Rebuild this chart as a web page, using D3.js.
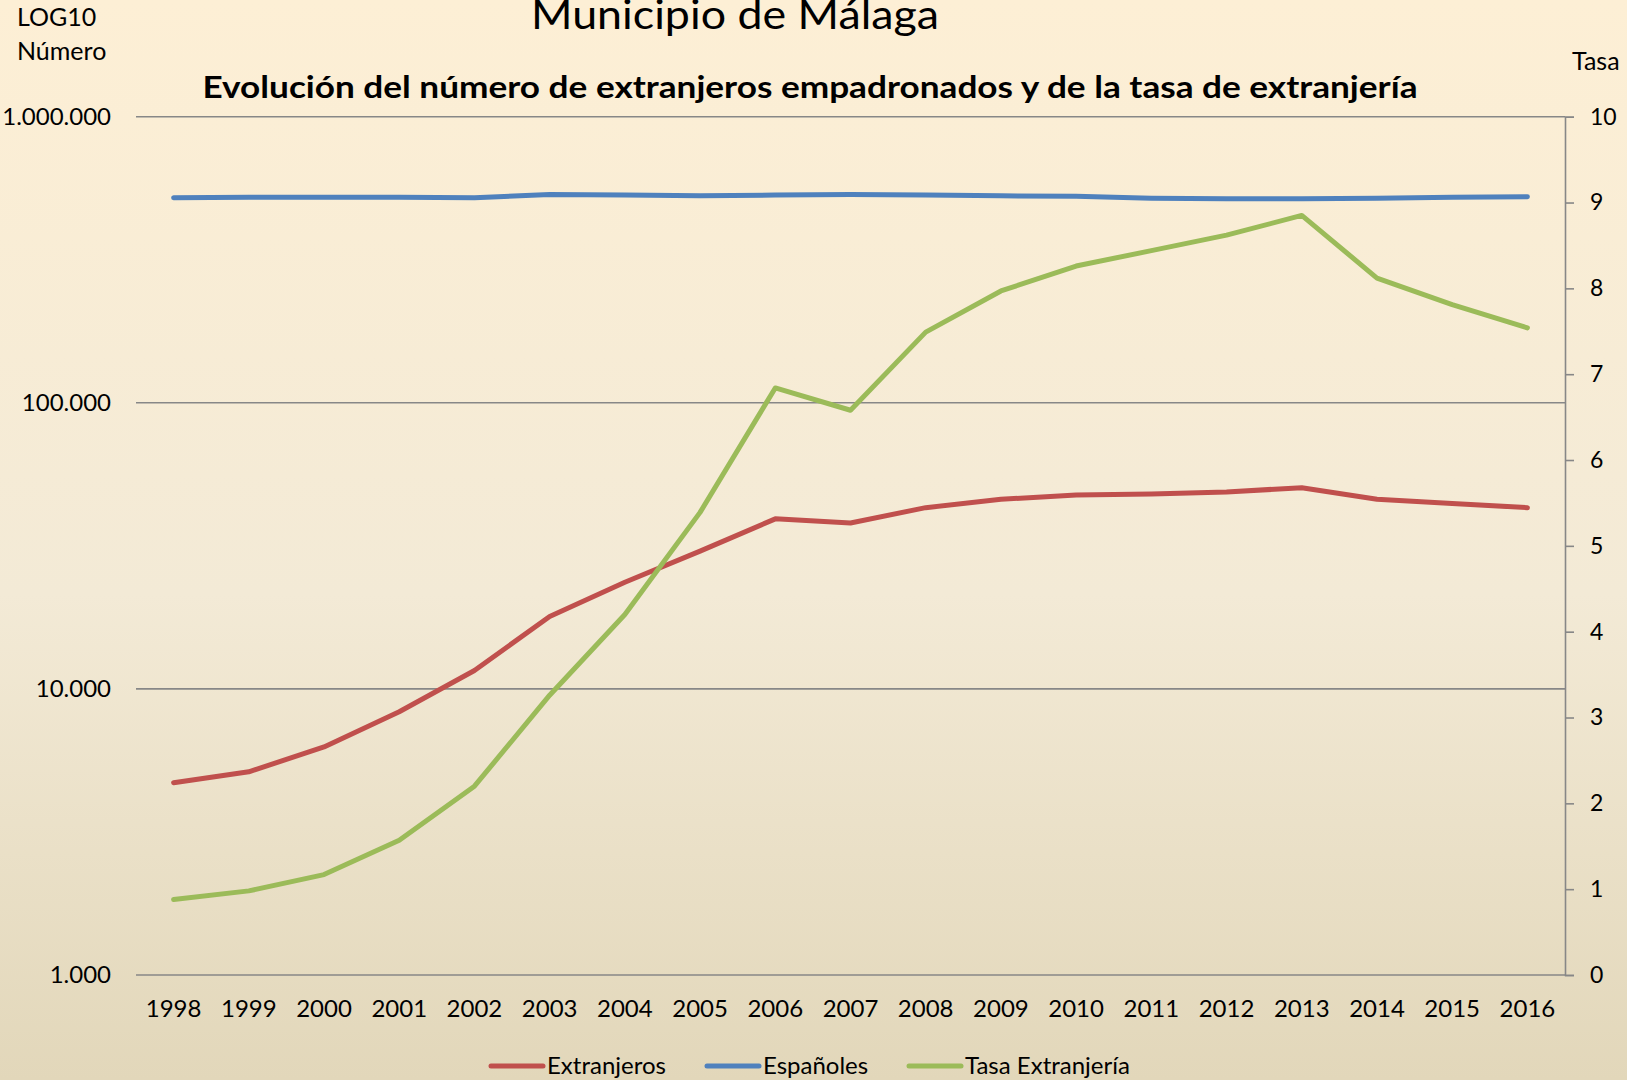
<!DOCTYPE html>
<html>
<head>
<meta charset="utf-8">
<title>Municipio de Málaga</title>
<script src="https://d3js.org/d3.v7.min.js"></script>
<style>
  html, body { margin: 0; padding: 0; overflow: hidden; }
  body { width: 1627px; height: 1080px; }
  text { font-family: Lato, "Open Sans", sans-serif; fill: #000; }
</style>
</head>
<body>
<div id="chart"></div>
<script>
// Data
var years = ["1998","1999","2000","2001","2002","2003","2004","2005","2006","2007",
             "2008","2009","2010","2011","2012","2013","2014","2015","2016"];
var extranjeros = [4700, 5130, 6270, 8320, 11600, 17900, 23600, 30300, 39300, 38000,
                   43000, 46000, 47600, 48000, 48800, 50500, 46000, 44500, 43000];
var espanoles = [521000, 523000, 523000, 523000, 521000, 535000, 532000, 529000, 532000, 535000,
                 532000, 529000, 527000, 519000, 517000, 517000, 519000, 523000, 525000];
var tasa = [0.88, 0.98, 1.17, 1.57, 2.20, 3.26, 4.20, 5.39, 6.84, 6.58,
            7.49, 7.97, 8.26, 8.44, 8.62, 8.85, 8.12, 7.81, 7.54];
var leftTicks = [1000, 10000, 100000, 1000000];
var leftTickLabels = ["1.000", "10.000", "100.000", "1.000.000"];
var rightTicks = [0, 1, 2, 3, 4, 5, 6, 7, 8, 9, 10];

var W = 1627, H = 1080;
var margin = {top: 116.7, right: 62, bottom: 105, left: 136};
var width = W - margin.left - margin.right,
    height = H - margin.top - margin.bottom;

var svg = d3.select("#chart").append("svg")
    .attr("width", W)
    .attr("height", H);

// background gradient
var defs = svg.append("defs");
var grad = defs.append("linearGradient")
    .attr("id", "bg").attr("x1", 0).attr("y1", 0).attr("x2", 0).attr("y2", 1);
grad.append("stop").attr("offset", "0%").attr("stop-color", "#fdefd5");
grad.append("stop").attr("offset", "55%").attr("stop-color", "#f3ead6");
grad.append("stop").attr("offset", "100%").attr("stop-color", "#e2d7ba");
svg.append("rect").attr("width", W).attr("height", H).attr("fill", "url(#bg)");

var g = svg.append("g")
    .attr("transform", "translate(" + margin.left + "," + margin.top + ")");

// Scales
var x = d3.scaleBand().domain(years).range([0, width]);
var xc = function(d) { return x(d) + x.bandwidth() / 2; };
var y = d3.scaleLog().domain([1000, 1000000]).range([height, 0]);
var y2 = d3.scaleLinear().domain([0, 10]).range([height, 0]);

// Gridlines (left axis)
g.selectAll(".grid").data(leftTicks).enter().append("line")
    .attr("x1", 0).attr("x2", width)
    .attr("y1", function(d) { return y(d); })
    .attr("y2", function(d) { return y(d); })
    .attr("stroke", "#878787").attr("stroke-width", 1.6);

// Left tick labels
g.selectAll(".ltick").data(leftTicks).enter().append("text")
    .attr("x", -25)
    .attr("y", function(d) { return y(d); })
    .attr("dy", "0.35em")
    .attr("text-anchor", "end")
    .style("font-size", "24px")
    .text(function(d, i) { return leftTickLabels[i]; });

// Right axis
var rightAxis = d3.axisRight(y2).tickValues(rightTicks).tickSize(9).tickPadding(16)
    .tickFormat(d3.format("d"));
var ra = g.append("g")
    .attr("transform", "translate(" + width + ",0)")
    .call(rightAxis);
ra.select(".domain").attr("stroke", "#878787").attr("stroke-width", 1.6);
ra.selectAll(".tick line").attr("stroke", "#878787").attr("stroke-width", 1.6);
ra.selectAll(".tick text")
    .style("font-family", "Lato, 'Open Sans', sans-serif")
    .style("font-size", "23px").attr("fill", "#000");

// Year labels
g.selectAll(".year").data(years).enter().append("text")
    .attr("x", function(d) { return xc(d); })
    .attr("y", height + 34)
    .attr("dy", "0.35em")
    .attr("text-anchor", "middle")
    .style("font-size", "24px")
    .text(function(d) { return d; });

// Lines
var lineL = d3.line()
    .x(function(d, i) { return xc(years[i]); })
    .y(function(d) { return y(d); });
var lineR = d3.line()
    .x(function(d, i) { return xc(years[i]); })
    .y(function(d) { return y2(d); });

var series = [
  {name: "Extranjeros", values: extranjeros, color: "#c0504d", line: lineL},
  {name: "Españoles", values: espanoles, color: "#4f81bd", line: lineL},
  {name: "Tasa Extranjería", values: tasa, color: "#9bbb59", line: lineR}
];

series.forEach(function(s) {
  g.append("path")
      .datum(s.values)
      .attr("fill", "none")
      .attr("stroke", s.color)
      .attr("stroke-width", 5)
      .attr("stroke-linejoin", "round")
      .attr("stroke-linecap", "round")
      .attr("d", s.line);
});

// Titles
svg.append("text")
    .attr("x", 735).attr("y", 29)
    .attr("text-anchor", "middle")
    .attr("textLength", 408).attr("lengthAdjust", "spacingAndGlyphs")
    .style("font-size", "40px")
    .text("Municipio de Málaga");

svg.append("text")
    .attr("x", 810).attr("y", 98)
    .attr("text-anchor", "middle")
    .attr("textLength", 1215).attr("lengthAdjust", "spacingAndGlyphs")
    .style("font-size", "31px").style("font-weight", "bold")
    .text("Evolución del número de extranjeros empadronados y de la tasa de extranjería");

svg.append("text").attr("x", 17).attr("y", 26)
    .style("font-size", "25px").text("LOG10");
svg.append("text").attr("x", 17).attr("y", 60)
    .style("font-size", "25px").text("Número");
svg.append("text").attr("x", 1572).attr("y", 70)
    .style("font-size", "25px").text("Tasa");

// Legend
var legendX = [491, 707, 909];
var leg = svg.selectAll(".legend").data(series).enter().append("g")
    .attr("transform", function(d, i) { return "translate(" + legendX[i] + ",1066)"; });
leg.append("line")
    .attr("x1", 0).attr("x2", 52).attr("y1", 0).attr("y2", 0)
    .attr("stroke", function(d) { return d.color; })
    .attr("stroke-width", 5).attr("stroke-linecap", "round");
leg.append("text")
    .attr("x", 56).attr("y", 0).attr("dy", "0.35em")
    .style("font-size", "24px")
    .text(function(d) { return d.name; });
</script>
</body>
</html>
